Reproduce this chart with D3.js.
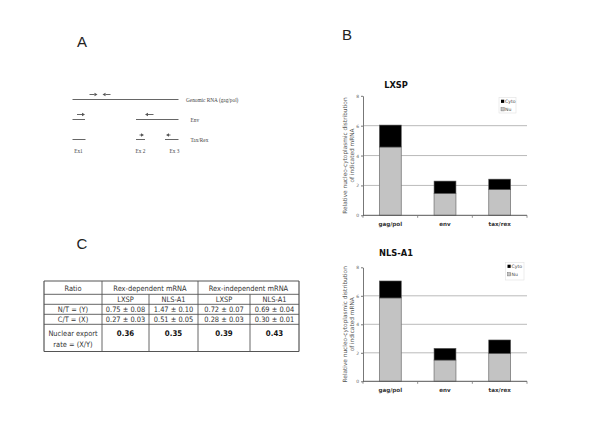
<!DOCTYPE html>
<html><head><meta charset="utf-8">
<script src="https://cdn.jsdelivr.net/npm/d3@7"></script>
<style>body{margin:0;background:#fff}</style>
</head><body>
<svg id="c" width="600" height="424" xmlns="http://www.w3.org/2000/svg"></svg>
<script>
const categories = ["gag/pol", "env", "tax/rex"];
const lxspNu = [4.57, 1.47, 1.73];
const lxspCyto = [1.47, 0.82, 0.69];
const nlsNu = [5.85, 1.49, 1.96];
const nlsCyto = [1.19, 0.82, 0.94];
const yTicks = [0, 2, 4, 6, 8];
const gridTicks = [2, 4, 6];
const legendLabels = ["Cyto", "Nu"];
const yLabelLines = ["Relative nucleo-cytoplasmic distribution", "of indicated mRNA"];
const tableHeader = ["Ratio", "Rex-dependent mRNA", "Rex-independent mRNA"];
const tableSub = ["", "LXSP", "NLS-A1", "LXSP", "NLS-A1"];
const rowNT = ["N/T = (Y)", "0.75 ± 0.08", "1.47 ± 0.10", "0.72 ± 0.07", "0.69 ± 0.04"];
const rowCT = ["C/T = (X)", "0.27 ± 0.03", "0.51 ± 0.05", "0.28 ± 0.03", "0.30 ± 0.01"];
const exportLabel = ["Nuclear export", "rate = (X/Y)"];
const rowExport = ["0.36", "0.35", "0.39", "0.43"];

const svg = d3.select("#c");
svg.append("rect").attr("width", 600).attr("height", 424).attr("fill", "#fff");

const SANS = "'DejaVu Sans', Verdana, sans-serif";
const COND = "'DejaVu Sans Condensed', 'Liberation Sans Narrow', 'DejaVu Sans', sans-serif";
const SERIF = "'Liberation Serif', 'DejaVu Serif', serif";

// Panel letters
[["A", 82, 47], ["B", 347, 40], ["C", 82, 249]].forEach(([t, x, y]) => {
  svg.append("text").attr("x", x).attr("y", y).attr("text-anchor", "middle")
    .attr("font-family", "'Liberation Sans', Arial, sans-serif").attr("font-size", 15)
    .attr("fill", "#222").text(t);
});

// ---------- Panel A schematic ----------
const A = svg.append("g").attr("stroke", "#555").attr("fill", "#555");
function seg(x1, x2, y) {
  A.append("line").attr("x1", x1).attr("x2", x2).attr("y1", y).attr("y2", y).attr("stroke-width", 0.9);
}
function arrow(x1, x2, y, dir) {
  // dir = 1 right, -1 left
  const tip = dir > 0 ? x2 : x1, tail = dir > 0 ? x1 : x2;
  const base = tip - dir * 3;
  A.append("line").attr("x1", tail).attr("x2", base).attr("y1", y).attr("y2", y).attr("stroke-width", 0.9);
  A.append("path").attr("stroke", "none")
    .attr("d", `M${tip},${y} L${base},${y - 1.8} L${base},${y + 1.8} Z`);
}
seg(72.5, 178.5, 99.5);
arrow(89.5, 97.5, 94.5, 1);
arrow(102.5, 110.5, 94.5, -1);
seg(72.5, 85, 119.5);
seg(136, 178.5, 119.5);
arrow(77, 85, 114.5, 1);
arrow(145, 153.5, 114.5, -1);
seg(72.5, 85.5, 139.5);
seg(136, 145, 139.5);
seg(165, 178.5, 139.5);
arrow(139.5, 144, 135, 1);
arrow(166, 170.5, 135, -1);
const aLabels = [["Genomic RNA (gag/pol)", 186, 101.5, "start"], ["Env", 190.5, 122, "start"], ["Tax/Rex", 190.5, 142, "start"],
  ["Ex1", 78.5, 152.5, "middle"], ["Ex 2", 140.5, 152.5, "middle"], ["Ex 3", 174.5, 152.5, "middle"]];
aLabels.forEach(([t, x, y, a]) => {
  svg.append("text").attr("x", x).attr("y", y).attr("text-anchor", a)
    .attr("font-family", SERIF).attr("font-size", 5.3).attr("fill", "#444").text(t);
});

// ---------- Panel B charts ----------
function chart(cfg) {
  const g = svg.append("g");
  const x = d3.scaleBand().domain(categories).range([363, 527]).paddingInner(0.6).paddingOuter(0.3);
  const y = d3.scaleLinear().domain([0, 8]).range([cfg.y0, cfg.y8]);
  // gridlines
  g.selectAll(".grid").data(gridTicks).join("line")
    .attr("x1", 363).attr("x2", 527).attr("y1", d => y(d)).attr("y2", d => y(d))
    .attr("stroke", "#a8a8a8").attr("stroke-width", 0.8);
  // bars
  const rows = categories.map((c, i) => ({ c, nu: cfg.nu[i], cyto: cfg.cyto[i] }));
  g.selectAll(".nu").data(rows).join("rect")
    .attr("x", d => x(d.c)).attr("width", x.bandwidth())
    .attr("y", d => y(d.nu)).attr("height", d => y(0) - y(d.nu))
    .attr("fill", "#c3c3c3").attr("stroke", "#7a7a7a").attr("stroke-width", 0.8);
  g.selectAll(".cy").data(rows).join("rect")
    .attr("x", d => x(d.c)).attr("width", x.bandwidth())
    .attr("y", d => y(d.nu + d.cyto)).attr("height", d => y(d.nu) - y(d.nu + d.cyto))
    .attr("fill", "#000").attr("stroke", "#555").attr("stroke-width", 0.6);
  // y axis
  const ya = g.append("g").attr("transform", "translate(363,0)")
    .call(d3.axisLeft(y).tickValues(yTicks).tickSize(2).tickPadding(2).tickSizeOuter(0));
  ya.select(".domain").attr("stroke", "#777");
  ya.selectAll(".tick line").attr("stroke", "#777");
  ya.selectAll(".tick text").attr("font-family", SANS).attr("font-size", 4.5).attr("fill", "#666");
  // x axis
  g.append("line").attr("x1", 363).attr("x2", 527).attr("y1", y(0)).attr("y2", y(0))
    .attr("stroke", "#555").attr("stroke-width", 1);
  const bounds = [x(categories[0]) + x.bandwidth() / 2 - x.step() / 2]
    .concat(categories.map(c => x(c) + x.bandwidth() / 2 + x.step() / 2));
  g.selectAll(".xt").data(bounds).join("line")
    .attr("x1", d => d).attr("x2", d => d).attr("y1", y(0)).attr("y2", y(0) + 2.5)
    .attr("stroke", "#777").attr("stroke-width", 0.8);
  g.selectAll(".xl").data(categories).join("text")
    .attr("x", c => x(c) + x.bandwidth() / 2).attr("y", y(0) + 10.5)
    .attr("text-anchor", "middle").attr("font-family", SANS).attr("font-weight", "bold")
    .attr("font-size", 5.6).attr("fill", "#333").text(c => c);
  // title
  g.append("text").attr("x", 396).attr("y", cfg.titleY).attr("text-anchor", "middle")
    .attr("font-family", SANS).attr("font-weight", "bold").attr("font-size", 8.3)
    .attr("fill", "#111").text(cfg.title);
  // y label
  const mid = (y(0) + y(8)) / 2;
  yLabelLines.forEach((t, i) => {
    g.append("text").attr("transform", `translate(${347 + i * 7.3},${mid}) rotate(-90)`)
      .attr("text-anchor", "middle").attr("font-family", SANS).attr("font-size", 5.8)
      .attr("fill", "#555").text(t);
  });
  // legend
  const L = cfg.legend;
  g.append("rect").attr("x", L[0]).attr("y", L[1]).attr("width", L[2]).attr("height", L[3])
    .attr("fill", "#fff").attr("stroke", "#e2e2e2").attr("stroke-width", 0.6);
  legendLabels.forEach((t, i) => {
    const cy = L[1] + 4 + i * 8;
    g.append("rect").attr("x", L[0] + 2).attr("y", cy - 1.8).attr("width", 3.2).attr("height", 3.2)
      .attr("fill", i === 0 ? "#000" : "#c3c3c3").attr("stroke", i === 0 ? "none" : "#777").attr("stroke-width", 0.5);
    g.append("text").attr("x", L[0] + 6).attr("y", cy + 1.6)
      .attr("font-family", SANS).attr("font-size", 4.6).attr("fill", "#444").text(t);
  });
}
chart({ title: "LXSP", titleY: 87.5, y0: 215.3, y8: 95.8, nu: lxspNu, cyto: lxspCyto, legend: [499, 97.5, 17, 15.5] });
chart({ title: "NLS-A1", titleY: 255.5, y0: 381.3, y8: 267.3, nu: nlsNu, cyto: nlsCyto, legend: [505.5, 262.5, 18.5, 17.5] });

// ---------- Panel C table ----------
const T = svg.append("g");
const colX = [44, 102, 149, 198, 250, 299];
const rowY = [281, 294.3, 304.3, 314.3, 324.3, 351.5];
const lc = "#555";
function hl(x1, x2, yy, w) { T.append("line").attr("x1", x1).attr("x2", x2).attr("y1", yy).attr("y2", yy).attr("stroke", lc).attr("stroke-width", w || 0.9); }
function vl(xx, y1, y2, w) { T.append("line").attr("x1", xx).attr("x2", xx).attr("y1", y1).attr("y2", y2).attr("stroke", lc).attr("stroke-width", w || 0.9); }
rowY.forEach((yy, i) => hl(colX[0], colX[5], yy, (i === 0 || i === rowY.length - 1) ? 1.2 : 0.9));
vl(colX[0], rowY[0], rowY[5], 1.2);
vl(colX[5], rowY[0], rowY[5], 1.2);
vl(colX[1], rowY[0], rowY[5]);
vl(colX[3], rowY[0], rowY[5]);
vl(colX[2], rowY[1], rowY[5]);
vl(colX[4], rowY[1], rowY[5]);
function cell(t, x, yy, bold) {
  T.append("text").attr("x", x).attr("y", yy).attr("text-anchor", "middle")
    .attr("font-family", COND).attr("font-stretch", "condensed").attr("font-size", bold ? 7.8 : 7.4)
    .attr("font-weight", bold ? "bold" : "normal").attr("fill", bold ? "#111" : "#333").text(t);
}
const cx = i => (colX[i] + colX[i + 1]) / 2;
cell(tableHeader[0], cx(0), 290.8);
cell(tableHeader[1], (colX[1] + colX[3]) / 2, 290.8);
cell(tableHeader[2], (colX[3] + colX[5]) / 2, 290.8);
tableSub.forEach((t, i) => cell(t, cx(i), 302.2));
rowNT.forEach((t, i) => cell(t, cx(i), 312.2));
rowCT.forEach((t, i) => cell(t, cx(i), 322.2));
exportLabel.forEach((t, i) => cell(t, cx(0), 335.5 + i * 11.5));
rowExport.forEach((t, i) => cell(t, cx(i + 1), 335.5, true));
</script>
</body></html>
